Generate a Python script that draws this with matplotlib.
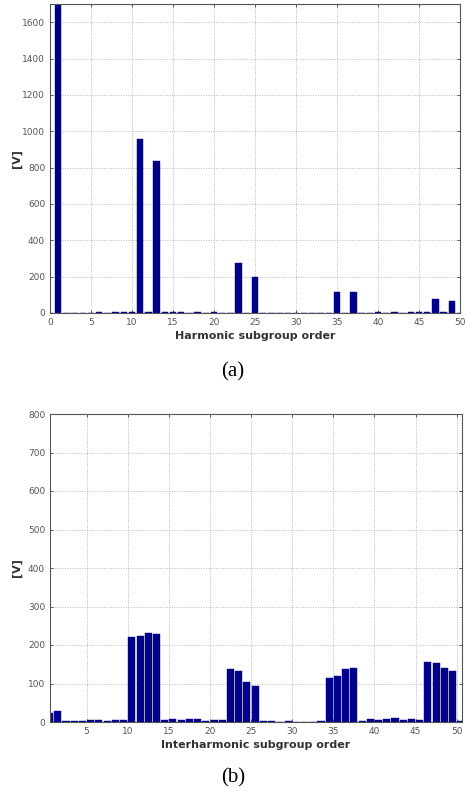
import matplotlib
matplotlib.use("Agg")
import matplotlib.pyplot as plt
import numpy as np

# Harmonic subgroup spectrum (orders 0..50)
harm_order = list(range(0, 51))
harm_vals = [0, 1850, 0, 0, 0, 0, 8, 0, 3, 3, 4,
             960, 3, 835, 3, 3, 3, 0, 5, 0, 6,
             0, 0, 275, 0, 200, 0, 0, 0, 0, 0,
             0, 0, 0, 0, 118, 0, 118, 0, 0, 3,
             0, 3, 0, 3, 3, 3, 75, 5, 68, 0]

# Interharmonic subgroup spectrum (subgroups 0..50)
inter_order = list(range(0, 51))
inter_vals = [23, 29, 2, 3, 2, 4, 4, 3, 5, 5,
              220, 223, 232, 229, 5, 9, 6, 8, 9, 3,
              6, 5, 138, 132, 103, 94, 2, 2, 0, 2,
              1, 1, 1, 3, 115, 120, 137, 139, 3, 7,
              5, 7, 10, 4, 7, 5, 157, 152, 140, 132, 3]

harm_yticks = [0, 200, 400, 600, 800, 1000, 1200, 1400, 1600]
harm_xticks = [0, 5, 10, 15, 20, 25, 30, 35, 40, 45, 50]
inter_yticks = [0, 100, 200, 300, 400, 500, 600, 700, 800]
inter_xticks = [5, 10, 15, 20, 25, 30, 35, 40, 45, 50]

BAR = "#00008a"
W, H = 466, 796
fig = plt.figure(figsize=(W / 100, H / 100), dpi=100)

def style(ax):
    ax.grid(True, linestyle=(0, (1, 1.5)), color="#b8b8b8", linewidth=0.7)
    ax.set_axisbelow(True)
    for s in ax.spines.values():
        s.set_color("#555555")
        s.set_linewidth(0.8)
    ax.tick_params(labelsize=6.5, colors="#444444", length=2.5, width=0.6,
                   direction="in", top=True, right=True)
    for lab in ax.get_xticklabels() + ax.get_yticklabels():
        lab.set_color("#555555")

ax1 = fig.add_axes([50 / W, 1 - 313 / H, 410 / W, 309 / H])
ax1.bar(harm_order, harm_vals, width=0.8, color=BAR, edgecolor=BAR, linewidth=0.3)
ax1.set_xlim(0, 50)
ax1.set_ylim(0, 1700)
ax1.set_xticks(harm_xticks)
ax1.set_yticks(harm_yticks)
style(ax1)
ax1.set_xlabel("Harmonic subgroup order", fontsize=8, fontweight="bold",
               color="#333333", labelpad=3)
ax1.set_ylabel("[V]", fontsize=8, color="#333333", fontweight="bold")
ax1.yaxis.set_label_coords(-0.068, 0.5)

ax2 = fig.add_axes([50 / W, 1 - 722 / H, 412 / W, 308 / H])
ax2.bar([o + 0.5 for o in inter_order], inter_vals, width=0.86, color=BAR,
        edgecolor=BAR, linewidth=0.3)
ax2.set_xlim(0.55, 50.65)
ax2.set_ylim(0, 800)
ax2.set_xticks(inter_xticks)
ax2.set_yticks(inter_yticks)
style(ax2)
ax2.set_xlabel("Interharmonic subgroup order", fontsize=8, fontweight="bold",
               color="#333333", labelpad=3)
ax2.set_ylabel("[V]", fontsize=8, color="#333333", fontweight="bold")
ax2.yaxis.set_label_coords(-0.068, 0.5)

fig.text(0.5, 1 - 372 / H, "(a)", ha="center", va="center", fontsize=15,
         family="Liberation Serif")
fig.text(0.5, 1 - 778 / H, "(b)", ha="center", va="center", fontsize=15,
         family="Liberation Serif")

fig.savefig("out.png", dpi=100, facecolor="white")
